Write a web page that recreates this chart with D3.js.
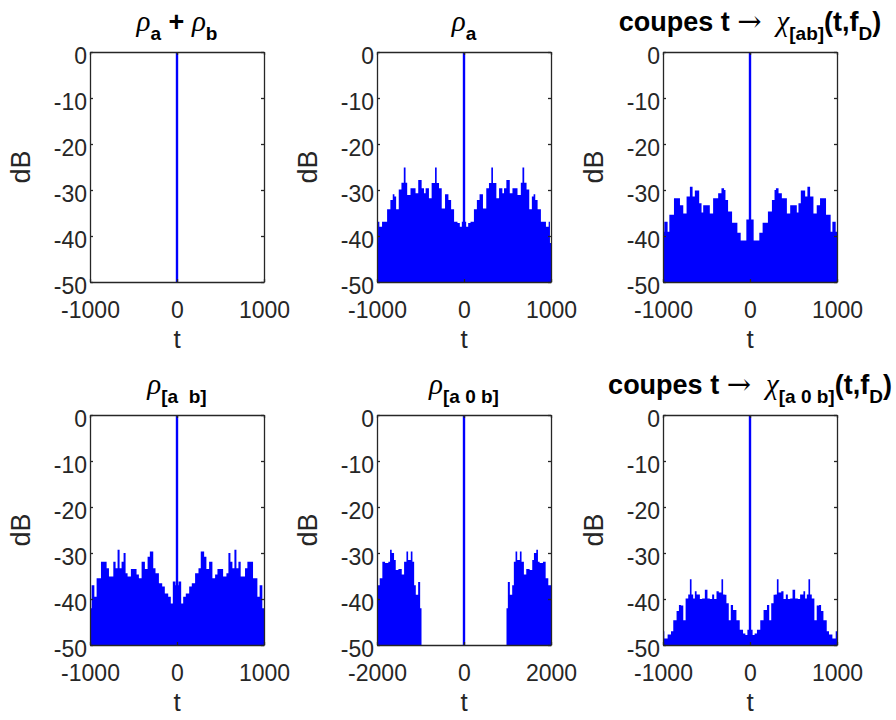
<!DOCTYPE html>
<html>
<head>
<meta charset="utf-8">
<script src="https://cdn.jsdelivr.net/npm/d3@7"></script>
<style>
  body { margin: 0; background: #fff; }
  svg { display: block; font-family: "Liberation Sans", Arial, Helvetica, sans-serif; }
</style>
</head>
<body>
<svg id="fig" width="896" height="720"></svg>
<script>
// Correlation cuts in dB. Each level holds from its lag t up to the next t (step envelope).
const tSum = [-1000, 1000];
const dbSum = [-50, -50];

const tRhoA = [-1000,-988,-973,-942,-884,-846,-819,-800,-780,-750,-719,-692,-672,-653,-615,-557,-526,-487,-460,-441,-403,-372,-333,-314,-287,-256,-218,-179,-148,-114,-75,-48,-25,-10,
  10,25,48,75,114,148,179,218,256,287,314,333,372,403,441,460,487,526,557,615,653,672,692,719,750,780,800,819,846,884,942,973,988,1000];
const dbRhoA = [-41.5,-36.9,-38.0,-36.9,-34.2,-32.2,-30.9,-31.4,-34.2,-29.9,-28.4,-25.1,-28.4,-31.1,-29.6,-30.7,-27.8,-29.6,-30.7,-29.6,-31.8,-28.5,-25.1,-28.5,-29.6,-34.0,-30.9,-32.2,-34.2,-36.9,-37.2,-38.0,-36.9,-37.5,
  -36.9,-38.0,-37.2,-36.9,-34.2,-32.2,-30.9,-34.0,-29.6,-28.5,-25.1,-28.5,-31.8,-29.6,-30.7,-29.6,-27.8,-30.7,-29.6,-31.1,-28.4,-25.1,-28.4,-29.9,-34.2,-31.4,-30.9,-32.2,-34.2,-36.9,-38.0,-36.9,-41.5,-41.5];

const tChiAB = [-1000,-985,-947,-927,-874,-805,-767,-729,-691,-660,-634,-584,-557,-538,-462,-424,-366,-328,-298,-282,-252,-206,-145,-107,-42,-11,
  11,42,107,145,206,252,282,298,328,366,424,462,538,557,584,634,660,691,729,767,805,874,927,947,985,1000];
const dbChiAB = [-39.1,-36.9,-39.1,-35.4,-31.8,-33.3,-35.1,-31.4,-29.3,-31.4,-30.1,-32.9,-34.9,-33.3,-35.1,-31.8,-30.7,-29.6,-30.0,-32.2,-34.7,-37.1,-39.3,-41.0,-36.4,-37.0,
  -36.4,-41.0,-39.3,-37.1,-34.7,-32.2,-30.0,-29.6,-30.7,-31.8,-35.1,-33.3,-34.9,-32.9,-30.1,-31.4,-29.3,-31.4,-35.1,-33.3,-31.8,-35.4,-39.1,-36.9,-39.1,-39.1];

const tRhoAB = [-1000,-981,-950,-924,-874,-809,-782,-732,-706,-683,-660,-637,-614,-591,-568,-530,-465,-438,-407,-369,-338,-312,-273,-247,-208,-170,-140,-101,-71,-48,-17,
  17,48,71,101,140,170,208,247,273,312,338,369,407,438,465,530,568,591,614,637,660,683,706,732,782,809,874,924,950,981,1000];
const dbRhoAB = [-42.0,-37.0,-39.5,-35.5,-31.9,-33.3,-35.1,-31.9,-33.3,-29.3,-33.3,-31.9,-30.0,-34.4,-35.1,-33.5,-34.7,-35.5,-31.9,-33.5,-30.8,-29.7,-33.3,-34.4,-36.6,-37.3,-38.8,-39.5,-41.0,-36.2,-37.0,
  -36.2,-41.0,-39.5,-38.8,-37.3,-36.6,-34.4,-33.3,-29.7,-30.8,-33.5,-31.9,-35.5,-34.7,-33.5,-35.1,-34.4,-30.0,-31.9,-33.3,-29.3,-33.3,-31.9,-35.1,-33.3,-31.9,-35.5,-39.5,-37.0,-42.0,-42.0];

const tRhoA0B = [-2000,-1938,-1877,-1815,-1739,-1700,-1662,-1608,-1569,-1508,-1431,-1377,-1323,-1285,-1223,-1185,-1146,-1108,-1054,-1008,-977,
  977,1008,1054,1108,1146,1185,1223,1285,1323,1377,1431,1508,1569,1608,1662,1700,1739,1815,1877,1938,2000];
const dbRhoA0B = [-37.0,-35.5,-31.9,-32.2,-31.9,-29.3,-30.0,-31.5,-33.7,-33.5,-34.7,-31.9,-29.7,-31.5,-29.7,-31.9,-37.0,-39.1,-36.3,-42.0,-50,
  -42.0,-36.3,-39.1,-37.0,-31.9,-29.7,-31.5,-29.7,-31.9,-34.7,-33.5,-33.7,-31.5,-30.0,-29.3,-31.9,-32.2,-31.9,-35.5,-37.0,-37.0];

const tChiA0B = [-1000,-985,-947,-908,-882,-844,-817,-794,-767,-740,-710,-691,-672,-653,-634,-614,-576,-550,-519,-489,-462,-435,-412,-385,-359,-328,-309,-290,-271,-244,-221,-195,-156,-118,-80,-53,-30,-11,
  11,30,53,80,118,156,195,221,244,271,290,309,328,359,385,412,435,462,489,519,550,576,614,634,653,672,691,710,740,767,794,817,844,882,908,947,985,1000];
const dbChiA0B = [-47.0,-48.6,-47.7,-47.0,-44.6,-42.6,-41.3,-41.4,-44.6,-39.9,-39.0,-35.7,-39.0,-39.9,-38.3,-39.0,-40.0,-39.9,-38.0,-39.9,-40.0,-39.0,-40.0,-38.3,-38.6,-35.7,-39.0,-39.1,-40.9,-44.6,-41.3,-42.4,-44.6,-46.7,-47.5,-47.8,-46.7,-47.0,
  -46.7,-47.8,-47.5,-46.7,-44.6,-42.4,-41.3,-44.6,-40.9,-39.1,-39.0,-35.7,-38.6,-38.3,-40.0,-39.0,-40.0,-39.9,-38.0,-39.9,-40.0,-39.0,-38.3,-39.9,-39.0,-35.7,-39.0,-39.9,-44.6,-41.4,-41.3,-42.6,-44.6,-47.0,-47.7,-48.6,-47.0,-47.0];

// main lobe at zero lag (0 dB in every cut)
const peakT = 0;
const peakDb = 0;

const yTicks = [0, -10, -20, -30, -40, -50];
const xTicks1000 = [-1000, 0, 1000];
const xTicks2000 = [-2000, 0, 2000];
const yDomain = [-50, 0];

// title pieces: g = greek letter, b = bold, n = normal, s = bold subscript
const titles = [
  [["ρ","g"],["a","s"],[" + ","b"],["ρ","g"],["b","s"]],
  [["ρ","g"],["a","s"]],
  [["coupes t ","b"],["→","n"],["  ","b"],["χ","g"],["[ab]","s"],["(t,f","b"],["D","s"],[")","b"]],
  [["ρ","g"],["[a  b]","s"]],
  [["ρ","g"],["[a 0 b]","s"]],
  [["coupes t ","b"],["→","n"],["  ","b"],["χ","g"],["[a 0 b]","s"],["(t,f","b"],["D","s"],[")","b"]]
];

const panels = [
  {t: tSum,    db: dbSum,    xt: xTicks1000},
  {t: tRhoA,   db: dbRhoA,   xt: xTicks1000},
  {t: tChiAB,  db: dbChiAB,  xt: xTicks1000},
  {t: tRhoAB,  db: dbRhoAB,  xt: xTicks1000},
  {t: tRhoA0B, db: dbRhoA0B, xt: xTicks2000},
  {t: tChiA0B, db: dbChiA0B, xt: xTicks1000}
];

// layout
const figW = 896;
const colLeft = [90, 377, 663];
const rowTop = [52, 415];
const W = 174, H = 230;
const axisColor = "#262626";
const blue = "#0000ff";
const fmt = d => String(d);   // plain hyphen for negative ticks

const svg = d3.select("#fig");

panels.forEach((p, i) => {
  const col = i % 3, row = Math.floor(i / 3);
  const g = svg.append("g").attr("transform", `translate(${colLeft[col]},${rowTop[row]})`);
  const x = d3.scaleLinear().domain(d3.extent(p.xt)).range([0, W]);
  const y = d3.scaleLinear().domain(yDomain).range([H, 0]);

  const clipId = "clip" + i;
  g.append("clipPath").attr("id", clipId).append("rect").attr("width", W).attr("height", H);

  const pts = p.t.map((t, k) => ({t, db: Math.max(p.db[k], yDomain[0])}));
  const area = d3.area()
    .x(d => x(d.t))
    .y0(y(yDomain[0]))
    .y1(d => y(d.db))
    .curve(d3.curveStepAfter);

  const plot = g.append("g").attr("clip-path", `url(#${clipId})`);
  plot.append("path").datum(pts).attr("d", area).attr("fill", blue).attr("stroke", "none");
  plot.append("line")
    .attr("x1", x(peakT)).attr("x2", x(peakT))
    .attr("y1", y(yDomain[0])).attr("y2", y(peakDb))
    .attr("stroke", blue).attr("stroke-width", 2.4);

  // axes with inward ticks, box on all sides
  const styleAxis = sel => {
    sel.selectAll("path.domain").attr("stroke", axisColor).attr("stroke-width", 1.3);
    sel.selectAll(".tick line").attr("stroke", axisColor).attr("stroke-width", 1.3);
    sel.selectAll("text").attr("fill", axisColor).style("font-size", "23px")
      .style("font-family", '"Liberation Sans", Arial, sans-serif');
  };
  g.append("g").call(d3.axisLeft(y).tickValues(yTicks).tickSize(-3).tickSizeOuter(0).tickPadding(3).tickFormat(fmt))
    .call(styleAxis).selectAll("text").attr("dy", "0.48em");
  g.append("g").attr("transform", `translate(${W},0)`)
    .call(d3.axisRight(y).tickValues(yTicks).tickSize(-3).tickSizeOuter(0).tickFormat(""))
    .call(styleAxis);
  g.append("g").attr("transform", `translate(0,${H})`)
    .call(d3.axisBottom(x).tickValues(p.xt).tickSize(-3).tickSizeOuter(0).tickPadding(20).tickFormat(fmt))
    .call(styleAxis);
  g.append("g")
    .call(d3.axisTop(x).tickValues(p.xt).tickSize(-3).tickSizeOuter(0).tickFormat(""))
    .call(styleAxis);

  // axis labels
  g.append("text").attr("x", W / 2).attr("y", H + 66).attr("text-anchor", "middle")
    .attr("fill", axisColor).style("font-size", "26px").text("t");
  g.append("text").attr("transform", `translate(-60, ${H / 2}) rotate(-90)`)
    .attr("text-anchor", "middle").attr("fill", axisColor).style("font-size", "27px").text("dB");

  // title, kept inside the figure when it is wider than the room on the right
  const tt = g.append("text").attr("x", W / 2).attr("y", -21).attr("text-anchor", "middle")
    .attr("fill", "#000").style("white-space", "pre");
  let inSub = false;
  titles[i].forEach(([txt, kind]) => {
    const sp = tt.append("tspan").text(txt);
    const sub = kind === "s";
    if (sub && !inSub) sp.attr("dy", 9);
    if (!sub && inSub) sp.attr("dy", -9);
    inSub = sub;
    if (kind === "g") sp.style("font-family", '"Liberation Serif", "DejaVu Serif", serif').style("font-style", "italic").style("font-size", "29px");
    else if (kind === "s") sp.style("font-weight", "bold").style("font-size", "19px");
    else if (kind === "n") sp.style("font-family", '"DejaVu Serif", serif').style("font-size", "29px");
    else sp.style("font-weight", "bold").style("font-size", "27px");
  });
  const bb = tt.node().getBBox();
  const rightEdge = colLeft[col] + bb.x + bb.width;
  if (rightEdge > figW - 2) tt.attr("x", W / 2 - (rightEdge - (figW - 2)));
});
</script>
</body>
</html>
